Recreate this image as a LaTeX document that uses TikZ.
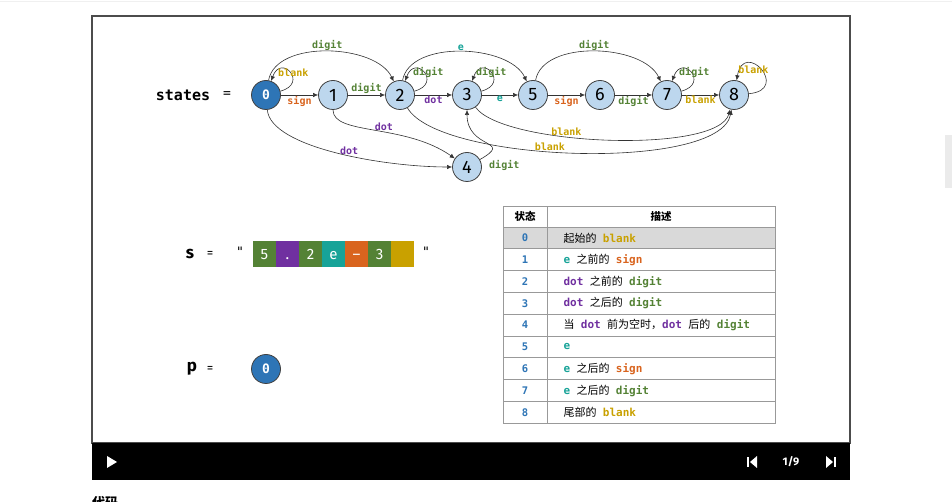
\documentclass[tikz,border=0pt]{standalone}
\usepackage{fontspec}
\setmainfont{Fira Sans}
\newfontfamily\monof{DejaVu Sans Mono}
\newfontfamily\cjk[WordSpace=2.6]{Noto Sans CJK SC}
\usetikzlibrary{arrows.meta}
\definecolor{cblank}{HTML}{C9A100}
\definecolor{csign}{HTML}{D9641E}
\definecolor{cdigit}{HTML}{548235}
\definecolor{cdot}{HTML}{7030A0}
\definecolor{ce}{HTML}{17A398}
\definecolor{nodefill}{HTML}{BDD7EE}
\definecolor{curfill}{HTML}{2E75B6}
\newcommand\kw[2]{\textcolor{#1}{\monof\bfseries#2}}
\begin{document}
\begin{tikzpicture}[x=1pt,y=1pt,
	st/.style={circle,draw=black!75,line width=.8pt,fill=nodefill,minimum size=29pt,inner sep=0pt,font=\fontsize{18}{18}\selectfont},
	cur/.style={st,fill=curfill,text=white,font=\monof\bfseries\fontsize{13}{13}\selectfont},
	lab/.style={font=\monof\bfseries\fontsize{10}{10}\selectfont,inner sep=1pt},
	ldigit/.style={lab,text=cdigit},
	lblank/.style={lab,text=cblank},
	lsign/.style={lab,text=csign},
	ldot/.style={lab,text=cdot},
	le/.style={lab,text=ce},
	tr/.style={draw=black!80,line width=.6pt,-{Latex[length=5pt,width=4.5pt]}},
	cell/.style={minimum width=23pt,minimum height=26pt,inner sep=0pt,text height=10.5pt,text depth=0pt,text=white,font=\fontsize{15}{15}\selectfont},
	big/.style={font=\bfseries\fontsize{17}{17}\selectfont},
	quote/.style={font=\monof\fontsize{13}{13}\selectfont},
	tabline/.style={draw=black!40,line width=.6pt}]
	\useasboundingbox[fill=white] (0,0) rectangle (952,502);
	\draw[black!6] (0,501) -- (952,501);
	\fill[black!8] (945,314) rectangle (952,367);
	% frame and player bar
	\draw[black!70,line width=1.2pt,fill=white] (92,59) rectangle (850,486);
	\fill[black] (92,22) rectangle (850,59);
	\fill[white] (107,46) -- (117,40) -- (107,34) -- cycle;
	\fill[white] (747,35) rectangle (749,45);
	\fill[white] (757,46) -- (750,40) -- (757,34) -- cycle;
	\node[text=white,font=\bfseries\fontsize{11}{11}\selectfont] (page) at (791,40) {1/9};
	\fill[white] (826,46) -- (833,40) -- (826,34) -- cycle;
	\fill[white] (834,35) rectangle (836,45);
	\node[anchor=north west,inner sep=0pt,font=\cjk\bfseries\fontsize{13}{13}\selectfont] (code) at (92,6) {代码};

	% states
	\node[font=\monof\bfseries\fontsize{15}{15}\selectfont] (lstates) at (183,407) {states};
	\node[font=\monof\fontsize{13}{13}\selectfont] (eqstates) at (227,407) {=};
	\node[cur] (s0) at (266,407) {0};
	\foreach \i/\x in {1/333,2/400,3/467,5/533,6/600,7/667,8/734}
		\node[st] (s\i) at (\x,407) {\i};
	\node[st] (s4) at (467,335) {4};
	\draw[tr] (s0) -- node[lsign,below]{sign} (s1);
	\draw[tr] (s1) -- node[ldigit,above]{digit} (s2);
	\draw[tr] (s2) -- node[ldot,below]{dot} (s3);
	\draw[tr] (s3) -- node[le,below]{e} (s5);
	\draw[tr] (s5) -- node[lsign,below]{sign} (s6);
	\draw[tr] (s6) -- node[ldigit,below]{digit} (s7);
	\draw[tr] (s7) -- node[lblank,below]{blank} (s8);
	% arcs over the top
	\draw[tr] (s0) to[out=80,in=115,looseness=.85] node[ldigit,above]{digit} (s2);
	\draw[tr] (s2) to[out=80,in=115,looseness=.85] node[le,above]{e} (s5);
	\draw[tr] (s5) to[out=80,in=115,looseness=.85] node[ldigit,above]{digit} (s7);
	% loops
	\draw[tr] (s0) to[out=15,in=70,looseness=5.5] node[lblank,xshift=3pt]{blank} (s0);
	\draw[tr] (s2) to[out=15,in=70,looseness=5.5] node[ldigit,xshift=4pt]{digit} (s2);
	\draw[tr] (s3) to[out=15,in=70,looseness=5.5] node[ldigit]{digit} (s3);
	\draw[tr] (s7) to[out=15,in=70,looseness=5.5] node[ldigit,xshift=3pt]{digit} (s7);
	\draw[tr] (s8) to[out=5,in=80,looseness=6] node[lblank,xshift=-8pt]{blank} (s8);
	% curves below
	\draw[tr] (s1) to[out=-90,in=145,out looseness=.5,in looseness=1.2] node[ldot,above,pos=.56]{dot} (s4);
	\draw[tr] (s0) to[out=-85,in=180,out looseness=.5,in looseness=.9] node[ldot,above,pos=.56]{dot} (s4);
	\draw[tr] (s2) to[out=-60,in=-100,looseness=.5] node[lblank,above,pos=.44]{blank} (s8);
	\draw[tr] (s3) to[out=-55,in=-105,looseness=.47] node[lblank,above,pos=.38]{blank} (s8);
	\draw[tr] (s4) to[out=30,in=-90,looseness=2] node[ldigit,pos=0,anchor=west,xshift=8pt,yshift=-6pt]{digit} (s3);

	% string s
	\node[big] (ls) at (190,248) {s};
	\node[font=\fontsize{13}{13}\selectfont] (eqs) at (210,248) {=};
	\node[quote] (qopen) at (240,250) {"};
	\foreach \c/\col [count=\k] in {5/cdigit,./cdot,2/cdigit,e/ce,–/csign,3/cdigit,{}/cblank}
		\node[cell,fill=\col] (c\k) at (241.5+23*\k,248) {\c};
	\node[quote] (qclose) at (426,250) {"};

	% pointer p
	\node[big] (lp) at (192,133) {p};
	\node[font=\fontsize{13}{13}\selectfont] (eqp) at (210,133) {=};
	\node[cur] (p0) at (266,133) {0};

	% table
	\fill[black!15] (503,275) rectangle (775,253.2);
	\foreach \k in {0,...,8}
		\draw[tabline] (503,275-21.8*\k) -- (775,275-21.8*\k);
	\draw[tabline] (547,79) -- (547,296);
	\draw[tabline] (503,79) rectangle (775,296);
	\node[font=\cjk\bfseries\fontsize{10.5}{10.5}\selectfont] (hstate) at (525,285.5) {状态};
	\node[font=\cjk\bfseries\fontsize{10.5}{10.5}\selectfont] (hdesc) at (661,285.5) {描述};
	\foreach \i/\d in {0/{起始的 \kw{cblank}{blank}},1/{\kw{ce}{e} 之前的 \kw{csign}{sign}},
		2/{\kw{cdot}{dot} 之前的 \kw{cdigit}{digit}},3/{\kw{cdot}{dot} 之后的 \kw{cdigit}{digit}},
		4/{当 \kw{cdot}{dot} 前为空时，\kw{cdot}{dot} 后的 \kw{cdigit}{digit}},5/{\kw{ce}{e}},
		6/{\kw{ce}{e} 之后的 \kw{csign}{sign}},7/{\kw{ce}{e} 之后的 \kw{cdigit}{digit}},
		8/{尾部的 \kw{cblank}{blank}}}{
		\pgfmathsetmacro\ry{275-21.8*(\i+0.5)}
		\node[font=\monof\bfseries\fontsize{10.5}{10.5}\selectfont,text=curfill] (n\i) at (525,\ry) {\i};
		\node[anchor=west,font=\cjk\fontsize{11}{11}\selectfont] (d\i) at (560,\ry) {\d};
	}
\end{tikzpicture}
\end{document}
